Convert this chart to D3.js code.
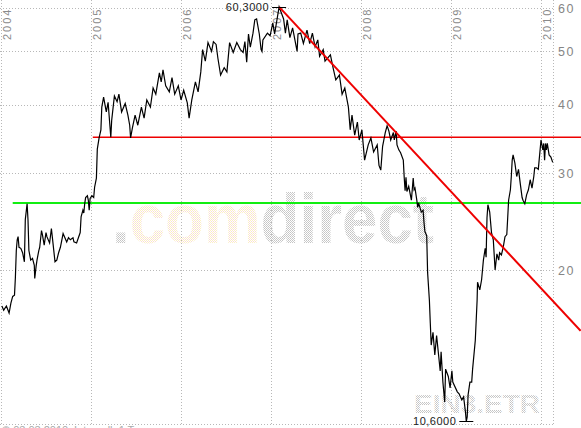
<!DOCTYPE html>
<html>
<head>
<meta charset="utf-8">
<title>EIN3.ETR</title>
<script src="https://d3js.org/d3.v7.min.js"></script>
<style>
    body { margin: 0; background: white; }
    svg { display: block; font-family: "Liberation Sans", Arial, sans-serif; }
    .grid { stroke: #b8b8b8; stroke-width: 1; stroke-dasharray: 1,2; fill: none; shape-rendering: crispEdges; }
    .ylab { font-size: 12.5px; fill: #858585; letter-spacing: 1.5px; }
    .xlab { font-size: 11px; fill: #8a8a8a; letter-spacing: 2px; }
    .kurs { fill: none; stroke: black; stroke-width: 1.2px; stroke-linejoin: miter; }
    .mark { font-size: 11px; fill: #222; letter-spacing: 0.5px; }
</style>
</head>
<body>
<script>
    // Kursverlauf: [Jahr (dezimal), Schlusskurs]
    let kurs = [
        [2004.01,17.2],[2004.03,16.9],[2004.06,17.2],[2004.09,16.7],[2004.11,17.4],[2004.13,17.9],[2004.15,18.0],[2004.16,19.4],
        [2004.17,21.7],[2004.18,22.7],[2004.19,23.0],[2004.20,22.0],[2004.22,21.9],[2004.24,21.5],[2004.26,20.7],[2004.27,24.7],
        [2004.29,26.4],[2004.30,24.7],[2004.31,21.7],[2004.33,20.85],[2004.35,21.0],[2004.37,20.4],[2004.375,19.3],[2004.39,20.3],
        [2004.40,20.85],[2004.42,21.7],[2004.43,22.0],[2004.45,23.6],[2004.46,23.2],[2004.48,22.2],[2004.50,23.4],[2004.51,23.0],
        [2004.54,22.4],[2004.56,23.8],[2004.58,22.2],[2004.60,20.7],[2004.62,20.85],[2004.64,21.5],[2004.66,22.0],[2004.69,23.3],
        [2004.71,22.9],[2004.73,22.5],[2004.75,22.9],[2004.77,22.7],[2004.80,22.9],[2004.81,22.5],[2004.84,22.4],[2004.86,22.9],
        [2004.88,23.4],[2004.89,25.0],[2004.91,25.7],[2004.92,25.4],[2004.93,26.4],[2004.94,27.1],[2004.96,27.3],[2004.97,26.8],
        [2004.98,25.7],[2004.99,27.0],[2005.01,27.3],[2005.03,27.1],[2005.04,28.3],[2005.06,29.4],[2005.07,33.2],[2005.09,34.8],
        [2005.11,36.0],[2005.12,39.6],[2005.14,41.3],[2005.17,38.8],[2005.19,40.4],[2005.22,34.9],[2005.23,37.5],[2005.26,41.5],
        [2005.29,40.5],[2005.31,41.8],[2005.34,38.8],[2005.38,40.2],[2005.41,38.3],[2005.43,36.7],[2005.44,34.8],[2005.46,36.3],
        [2005.49,38.3],[2005.52,36.7],[2005.56,39.6],[2005.59,37.8],[2005.62,40.8],[2005.66,39.6],[2005.69,42.9],[2005.72,41.8],
        [2005.76,45.7],[2005.78,44.0],[2005.80,46.3],[2005.83,43.3],[2005.87,42.2],[2005.90,44.8],[2005.93,41.8],[2005.97,43.3],
        [2006.00,40.8],[2006.03,42.5],[2006.07,40.3],[2006.09,37.8],[2006.12,40.8],[2006.16,44.0],[2006.19,42.2],[2006.22,45.9],
        [2006.24,50.4],[2006.27,48.0],[2006.30,51.9],[2006.34,50.0],[2006.36,52.1],[2006.39,51.5],[2006.41,48.6],[2006.44,45.3],
        [2006.48,46.7],[2006.51,45.9],[2006.54,51.9],[2006.58,49.8],[2006.62,51.9],[2006.66,50.4],[2006.69,49.8],[2006.71,52.1],
        [2006.73,47.8],[2006.75,53.8],[2006.77,50.9],[2006.80,54.0],[2006.82,57.1],[2006.84,57.3],[2006.87,53.8],[2006.89,50.4],
        [2006.90,50.0],[2006.91,52.5],[2006.96,54.0],[2006.99,53.4],[2007.02,56.4],[2007.04,53.8],[2007.09,60.3],[2007.14,57.3],
        [2007.16,54.0],[2007.18,57.1],[2007.21,53.0],[2007.24,55.2],[2007.29,50.0],[2007.30,53.8],[2007.33,54.0],[2007.36,51.7],
        [2007.40,54.7],[2007.43,51.7],[2007.46,54.0],[2007.49,51.0],[2007.52,52.5],[2007.54,49.0],[2007.58,50.4],[2007.60,48.0],
        [2007.66,49.3],[2007.69,46.7],[2007.72,44.4],[2007.76,45.3],[2007.79,41.8],[2007.82,42.9],[2007.86,39.6],[2007.88,36.0],
        [2007.90,38.3],[2007.93,35.2],[2007.96,37.2],[2007.98,34.5],[2008.01,36.0],[2008.04,31.7],[2008.08,33.8],[2008.11,34.8],
        [2008.14,32.8],[2008.18,33.8],[2008.20,31.0],[2008.22,30.4],[2008.24,33.6],[2008.27,35.6],[2008.29,36.6],[2008.31,35.8],
        [2008.33,34.5],[2008.36,35.6],[2008.37,34.5],[2008.39,35.8],[2008.40,33.8],[2008.42,33.1],[2008.44,32.7],[2008.47,31.7],
        [2008.48,29.5],[2008.49,27.9],[2008.50,29.5],[2008.51,27.8],[2008.53,28.4],[2008.56,26.8],[2008.58,29.4],[2008.59,28.0],
        [2008.60,28.2],[2008.62,26.8],[2008.63,26.0],[2008.64,26.5],[2008.67,25.5],[2008.69,25.7],[2008.70,24.4],[2008.71,23.5],
        [2008.73,23.1],[2008.74,19.8],[2008.76,17.6],[2008.77,16.0],[2008.78,14.6],[2008.80,15.4],[2008.82,14.0],[2008.84,15.2],
        [2008.87,13.6],[2008.88,13.1],[2008.89,14.2],[2008.91,12.5],[2008.93,11.5],[2008.94,13.2],[2008.97,12.8],[2008.99,12.2],
        [2009.01,13.1],[2009.02,12.5],[2009.07,12.0],[2009.09,11.9],[2009.12,11.6],[2009.14,11.75],[2009.16,11.05],[2009.17,10.6],
        [2009.18,10.8],[2009.19,11.85],[2009.21,12.5],[2009.23,12.5],[2009.24,13.2],[2009.27,14.9],[2009.29,17.6],[2009.295,19.0],
        [2009.32,18.4],[2009.34,19.2],[2009.36,20.85],[2009.38,21.9],[2009.39,21.1],[2009.40,24.9],[2009.41,26.3],[2009.43,25.5],
        [2009.45,23.4],[2009.47,22.7],[2009.49,20.0],[2009.51,21.4],[2009.53,20.85],[2009.54,21.5],[2009.56,21.3],[2009.58,22.0],
        [2009.60,23.0],[2009.62,23.2],[2009.63,24.9],[2009.64,26.8],[2009.66,28.0],[2009.67,29.6],[2009.68,31.7],[2009.69,32.4],
        [2009.71,31.3],[2009.73,29.6],[2009.75,30.5],[2009.77,28.7],[2009.79,27.1],[2009.80,26.8],[2009.82,26.4],[2009.84,27.4],
        [2009.86,28.0],[2009.88,29.2],[2009.90,28.2],[2009.92,29.6],[2009.93,30.7],[2009.95,30.7],[2009.97,30.5],[2009.99,33.1],
        [2010.00,34.5],[2010.02,33.1],[2010.03,34.0],[2010.04,31.7],[2010.05,34.0],[2010.06,33.1],[2010.07,34.0],[2010.09,32.4],
        [2010.11,32.1],[2010.13,31.4]
    ];
    let jahre = [2004, 2005, 2006, 2007, 2008, 2009, 2010];
    let preisTicks = [20, 30, 40, 50, 60];
    // Trendlinie (Abwärtstrend ab Hoch) und horizontale Marken
    let trend = [[2007.09, 60.3], [2010.44, 15.5]];
    let widerstand = {von: 2005.02, wert: 34.9};
    let unterstuetzung = {von: 2004.13, wert: 26.5};

    let W = 581, H = 428;
    let plotRight = 553, plotBottom = 424;

    let x = d3.scaleLinear().domain([2004, 2010]).range([1, 541]);
    let y = d3.scaleLog().domain([20, 60]).range([270, 8]);

    let svg = d3.select("body").append("svg").attr("width", W).attr("height", H);
    svg.append("rect").attr("width", W).attr("height", H).attr("fill", "white");

    let defs = svg.append("defs");
    let pg = defs.append("pattern").attr("id", "dotGray").attr("width", 2).attr("height", 2)
        .attr("patternUnits", "userSpaceOnUse");
    pg.append("rect").attr("width", 2).attr("height", 2).attr("fill", "#ffffff");
    pg.append("rect").attr("width", 1).attr("height", 1).attr("fill", "#c4c4c4");
    pg.append("rect").attr("x", 1).attr("y", 1).attr("width", 1).attr("height", 1).attr("fill", "#cdcdcd");
    let py = defs.append("pattern").attr("id", "dotYellow").attr("width", 2).attr("height", 2)
        .attr("patternUnits", "userSpaceOnUse");
    py.append("rect").attr("width", 2).attr("height", 2).attr("fill", "#ffffff");
    py.append("rect").attr("width", 1).attr("height", 1).attr("fill", "#fcf0c4");
    py.append("rect").attr("x", 1).attr("y", 1).attr("width", 1).attr("height", 1).attr("fill", "#f8ddd8");

    // Wasserzeichen
    let wm = svg.append("text")
        .attr("x", 112).attr("y", 243)
        .attr("textLength", 322).attr("lengthAdjust", "spacingAndGlyphs")
        .style("font-size", "70px").style("font-weight", "bold");
    wm.append("tspan").attr("fill", "url(#dotGray)").text(".");
    wm.append("tspan").attr("fill", "url(#dotYellow)").text("com");
    wm.append("tspan").attr("fill", "url(#dotGray)").text("direct");

    svg.append("text")
        .attr("x", 414).attr("y", 413)
        .attr("textLength", 126).attr("lengthAdjust", "spacingAndGlyphs")
        .attr("fill", "url(#dotGray)")
        .style("font-size", "26px").style("font-weight", "bold")
        .text("EIN3.ETR");

    // Gitter
    let grid = svg.append("g");
    grid.selectAll(".hl").data(preisTicks).enter().append("line")
        .attr("class", "grid")
        .attr("x1", 0).attr("x2", plotRight)
        .attr("y1", d => Math.round(y(d)) + 0.5).attr("y2", d => Math.round(y(d)) + 0.5);
    grid.selectAll(".vl").data(jahre).enter().append("line")
        .attr("class", "grid")
        .attr("x1", d => Math.round(x(d)) + 0.5).attr("x2", d => Math.round(x(d)) + 0.5)
        .attr("y1", 0).attr("y2", plotBottom);
    grid.append("line").attr("class", "grid")
        .attr("x1", 0).attr("x2", plotRight).attr("y1", plotBottom + 0.5).attr("y2", plotBottom + 0.5);
    grid.append("line").attr("class", "grid")
        .attr("x1", plotRight + 0.5).attr("x2", plotRight + 0.5).attr("y1", 0).attr("y2", plotBottom);

    // Achsenbeschriftung
    svg.selectAll(".ylab").data(preisTicks).enter().append("text")
        .attr("class", "ylab")
        .attr("x", 558).attr("y", d => y(d) + 4.5)
        .text(d => d);
    svg.selectAll(".xlab").data(jahre).enter().append("text")
        .attr("class", "xlab")
        .attr("transform", d => "translate(" + (x(d) + 10) + ",40) rotate(-90)")
        .text(d => d);

    // horizontale Linien
    svg.append("line")
        .attr("x1", x(unterstuetzung.von)).attr("x2", W)
        .attr("y1", y(unterstuetzung.wert)).attr("y2", y(unterstuetzung.wert))
        .attr("stroke", "#11ee11").attr("stroke-width", 2);
    svg.append("line")
        .attr("x1", x(widerstand.von)).attr("x2", W)
        .attr("y1", y(widerstand.wert)).attr("y2", y(widerstand.wert))
        .attr("stroke", "#ee0000").attr("stroke-width", 1.6);

    // Kurs
    let line = d3.line().x(d => x(d[0])).y(d => y(d[1]));
    svg.append("path").datum(kurs).attr("class", "kurs").attr("d", line);

    // Trendlinie
    svg.append("line")
        .attr("x1", x(trend[0][0])).attr("y1", y(trend[0][1]))
        .attr("x2", x(trend[1][0])).attr("y2", y(trend[1][1]))
        .attr("stroke", "#ee0000").attr("stroke-width", 2);

    // Hoch / Tief
    let hi = kurs.reduce((a, b) => b[1] > a[1] ? b : a);
    let lo = kurs.reduce((a, b) => b[1] < a[1] ? b : a);
    let fmt = v => v.toFixed(4).replace(".", ",");
    [hi, lo].forEach(function(p) {
        let px = x(p[0]), pyy = y(p[1]);
        svg.append("line")
            .attr("x1", px - 7).attr("x2", px + 7)
            .attr("y1", Math.round(pyy) + 0.5).attr("y2", Math.round(pyy) + 0.5)
            .attr("stroke", "black").attr("stroke-width", 1);
        svg.append("text").attr("class", "mark")
            .attr("x", px - 10).attr("y", pyy + 4)
            .attr("text-anchor", "end")
            .text(fmt(p[1]));
    });

    // Fußzeile (abgeschnitten)
    svg.append("text").attr("x", 2).attr("y", 434)
        .style("font-size", "11px").attr("fill", "#aaa")
        .text("© 03.03.2010");
    svg.append("text").attr("x", 74).attr("y", 434)
        .style("font-size", "11px").attr("fill", "#aaa")
        .text("Intervall: 1 Tag");
</script>
</body>
</html>
